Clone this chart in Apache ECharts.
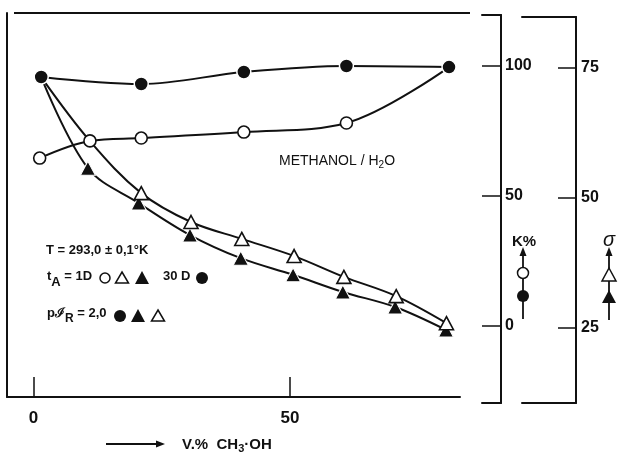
<!DOCTYPE html>
<html>
<head>
<meta charset="utf-8">
<script src="https://cdn.jsdelivr.net/npm/echarts@6/dist/echarts.min.js"></script>
<style>
html,body{margin:0;padding:0;background:#fff;}
#c{width:620px;height:457px;}
</style>
</head>
<body>
<div id="c"></div>
<script>
// ---- data ----
const xTicks = [0, 50];
const kTicks = [0, 50, 100];
const sigmaTicks = [25, 50, 75];

// K% (left scale) – circles
const xFilledCircle = [1.5, 21, 41, 61, 81];
const kFilledCircle = [95.8, 93.1, 97.7, 100, 99.6];
const xOpenCircle = [1.2, 11, 21, 41, 61, 81];
const kOpenCircle = [64.6, 71.2, 72.3, 74.6, 78.1, 99.6];

// sigma (right scale) – triangles; first point is the common start (no marker)
const xFilledTri = [1.5, 10.6, 20.5, 30.5, 40.4, 50.6, 60.3, 70.5, 80.4];
const sFilledTri = [73.1, 55.6, 48.9, 42.75, 38.3, 35.1, 31.8, 28.9, 24.5];
const xOpenTri = [1.5, 11, 21, 30.7, 40.6, 50.8, 60.5, 70.7, 80.5];
const sOpenTri = [73.1, 60.8, 50.8, 45.25, 42.0, 38.7, 34.7, 31.0, 25.8];
const hiddenOpenTri = [0, 1]; // start point and the one hidden behind the open circle

const FONT = '"Liberation Sans", Arial, sans-serif';
const INK = '#111';

function pairs(xs, ys, hidden) {
  return xs.map((x, i) => (hidden && hidden.includes(i))
    ? { value: [x, ys[i]], symbol: 'none' }
    : [x, ys[i]]);
}

const chart = echarts.init(document.getElementById('c'), null, { renderer: 'canvas' });

const lineStyle = { color: INK, width: 2 };

const option = {
  backgroundColor: '#fff',
  animation: false,
  grid: [
    { left: 7, top: 13, width: 453, height: 384 },
    { left: 482, top: 15, width: 19, height: 388 },
    { left: 522, top: 17, width: 54, height: 386 }
  ],
  xAxis: [
    {
      gridIndex: 0, type: 'value', position: 'bottom',
      min: -5.17, max: 83.14,
      axisLine: { show: true, onZero: false, lineStyle: { color: INK, width: 2 } },
      axisTick: { show: true, inside: true, length: 20, customValues: xTicks, lineStyle: { color: INK, width: 1.5 } },
      axisLabel: { show: true, customValues: xTicks, margin: 13, color: INK, fontSize: 17, fontWeight: 'bold', fontFamily: FONT },
      splitLine: { show: false }
    },
    { gridIndex: 1, type: 'value', min: 0, max: 1, position: 'bottom',
      axisLine: { show: true, onZero: false, lineStyle: { color: INK, width: 2 } },
      axisTick: { show: false }, axisLabel: { show: false }, splitLine: { show: false } },
    { gridIndex: 1, type: 'value', min: 0, max: 1, position: 'top',
      axisLine: { show: true, onZero: false, lineStyle: { color: INK, width: 2 } },
      axisTick: { show: false }, axisLabel: { show: false }, splitLine: { show: false } },
    { gridIndex: 2, type: 'value', min: 0, max: 1, position: 'bottom',
      axisLine: { show: true, onZero: false, lineStyle: { color: INK, width: 2 } },
      axisTick: { show: false }, axisLabel: { show: false }, splitLine: { show: false } },
    { gridIndex: 2, type: 'value', min: 0, max: 1, position: 'top',
      axisLine: { show: true, onZero: false, lineStyle: { color: INK, width: 2 } },
      axisTick: { show: false }, axisLabel: { show: false }, splitLine: { show: false } }
  ],
  yAxis: [
    { // K% plotting scale (left frame line)
      gridIndex: 0, type: 'value', position: 'left',
      min: -27.3, max: 120.4,
      axisLine: { show: true, onZero: false, lineStyle: { color: INK, width: 2 } },
      axisTick: { show: false }, axisLabel: { show: false }, splitLine: { show: false }
    },
    { // sigma plotting scale (hidden)
      gridIndex: 0, type: 'value', position: 'right',
      min: 11.6, max: 85.44, show: false, splitLine: { show: false }
    },
    { // visible K% axis
      gridIndex: 1, type: 'value', position: 'right',
      min: -29.6, max: 119.6,
      axisLine: { show: true, onZero: false, lineStyle: { color: INK, width: 2 } },
      axisTick: { show: true, inside: true, length: 19, customValues: kTicks, lineStyle: { color: INK, width: 1.5 } },
      axisLabel: { show: true, customValues: kTicks, margin: 4, color: INK, fontSize: 16, fontWeight: 'bold', fontFamily: FONT },
      splitLine: { show: false }
    },
    { // visible sigma axis
      gridIndex: 2, type: 'value', position: 'right',
      min: 10.44, max: 84.67,
      axisLine: { show: true, onZero: false, lineStyle: { color: INK, width: 2 } },
      axisTick: { show: true, inside: true, length: 18, customValues: sigmaTicks, lineStyle: { color: INK, width: 1.5 } },
      axisLabel: { show: true, customValues: sigmaTicks, margin: 5, color: INK, fontSize: 16, fontWeight: 'bold', fontFamily: FONT },
      splitLine: { show: false }
    }
  ],
  series: [
    {
      name: 'tA 1D filled triangle', type: 'line', xAxisIndex: 0, yAxisIndex: 1,
      smooth: 0.35, data: pairs(xFilledTri, sFilledTri, [0]),
      symbol: 'triangle', symbolSize: [15, 14], showAllSymbol: true,
      itemStyle: { color: INK, borderColor: '#fff', borderWidth: 1 },
      lineStyle: lineStyle, z: 3
    },
    {
      name: 'tA 1D open triangle', type: 'line', xAxisIndex: 0, yAxisIndex: 1,
      smooth: 0.35, data: pairs(xOpenTri, sOpenTri, hiddenOpenTri),
      symbol: 'triangle', symbolSize: [14, 13], showAllSymbol: true,
      itemStyle: { color: '#fff', borderColor: INK, borderWidth: 1.6 },
      lineStyle: lineStyle, z: 3
    },
    {
      name: 'tA 1D open circle', type: 'line', xAxisIndex: 0, yAxisIndex: 0,
      smooth: 0.35, data: pairs(xOpenCircle, kOpenCircle, [5]),
      symbol: 'circle', symbolSize: 12, showAllSymbol: true,
      itemStyle: { color: '#fff', borderColor: INK, borderWidth: 1.6 },
      lineStyle: lineStyle, z: 4
    },
    {
      name: 'tA 30D filled circle', type: 'line', xAxisIndex: 0, yAxisIndex: 0,
      smooth: 0.35, data: pairs(xFilledCircle, kFilledCircle),
      symbol: 'circle', symbolSize: 14, showAllSymbol: true,
      itemStyle: { color: INK, borderColor: '#fff', borderWidth: 1.5 },
      lineStyle: lineStyle, z: 5
    }
  ],
  graphic: [
    // top frame line
    { type: 'line', shape: { x1: 14, y1: 13, x2: 470, y2: 13 }, style: { stroke: INK, lineWidth: 2 } },
    // annotation texts
    { type: 'text', left: 279, top: 154, style: {
        text: 'METHANOL / H{s|2}O', fill: INK, font: '14px ' + FONT,
        rich: { s: { fontSize: 10, fontFamily: FONT, fill: INK, padding: [8, 0, 0, 0] } } } },
    { type: 'text', left: 46, top: 244, style: { text: 'T = 293,0 ± 0,1°K', fill: INK, font: 'bold 13px ' + FONT } },
    { type: 'text', left: 47, top: 270, style: {
        text: 't{s|A} = 1D', fill: INK, font: 'bold 13px ' + FONT,
        rich: { s: { fontSize: 13, fontWeight: 'bold', fontFamily: FONT, fill: INK, padding: [12, 0, 0, 0] } } } },
    { type: 'circle', shape: { cx: 105, cy: 278, r: 5 }, style: { fill: '#fff', stroke: INK, lineWidth: 1.5 } },
    { type: 'polygon', shape: { points: [[122, 272], [128.5, 283], [115.5, 283]] }, style: { fill: '#fff', stroke: INK, lineWidth: 1.5 } },
    { type: 'polygon', shape: { points: [[142, 271], [149, 284], [135, 284]] }, style: { fill: INK } },
    { type: 'text', left: 163, top: 270, style: { text: '30 D', fill: INK, font: 'bold 13px ' + FONT } },
    { type: 'circle', shape: { cx: 202, cy: 278, r: 6 }, style: { fill: INK } },
    { type: 'text', left: 47, top: 307, style: {
        text: 'p\u2110{s|R} = 2,0', fill: INK, font: 'bold 13px ' + FONT,
        rich: { s: { fontSize: 12, fontWeight: 'bold', fontFamily: FONT, fill: INK, padding: [10, 0, 0, 0] } } } },
    { type: 'circle', shape: { cx: 120, cy: 316, r: 6 }, style: { fill: INK } },
    { type: 'polygon', shape: { points: [[138, 309], [145, 322], [131, 322]] }, style: { fill: INK } },
    { type: 'polygon', shape: { points: [[158, 310], [164.5, 321], [151.5, 321]] }, style: { fill: '#fff', stroke: INK, lineWidth: 1.5 } },
    // K% key on the right
    { type: 'text', left: 512, top: 234, style: { text: 'K%', fill: INK, font: 'bold 15px ' + FONT } },
    { type: 'line', shape: { x1: 523, y1: 252, x2: 523, y2: 319 }, style: { stroke: INK, lineWidth: 1.8 } },
    { type: 'polygon', shape: { points: [[523, 247], [526.5, 256], [519.5, 256]] }, style: { fill: INK } },
    { type: 'circle', shape: { cx: 523, cy: 273, r: 5.5 }, style: { fill: '#fff', stroke: INK, lineWidth: 1.5 } },
    { type: 'circle', shape: { cx: 523, cy: 296, r: 6 }, style: { fill: INK } },
    // sigma key on the right
    { type: 'text', left: 603, top: 230, style: { text: 'σ', fill: INK, font: 'italic 20px ' + FONT } },
    { type: 'line', shape: { x1: 609, y1: 252, x2: 609, y2: 320 }, style: { stroke: INK, lineWidth: 1.8 } },
    { type: 'polygon', shape: { points: [[609, 247], [612.5, 256], [605.5, 256]] }, style: { fill: INK } },
    { type: 'polygon', shape: { points: [[609, 268], [616, 281], [602, 281]] }, style: { fill: '#fff', stroke: INK, lineWidth: 1.5 } },
    { type: 'polygon', shape: { points: [[609, 290], [616, 303], [602, 303]] }, style: { fill: INK } },
    // x-axis title with arrow
    { type: 'line', shape: { x1: 106, y1: 444, x2: 158, y2: 444 }, style: { stroke: INK, lineWidth: 2 } },
    { type: 'polygon', shape: { points: [[165, 444], [156, 440.5], [156, 447.5]] }, style: { fill: INK } },
    { type: 'text', left: 182, top: 437, style: {
        text: 'V.%  CH{s|3}·OH', fill: INK, font: 'bold 15px ' + FONT,
        rich: { s: { fontSize: 11, fontWeight: 'bold', fontFamily: FONT, fill: INK, padding: [8, 0, 0, 0] } } } }
  ]
};
chart.setOption(option);
</script>
</body>
</html>
